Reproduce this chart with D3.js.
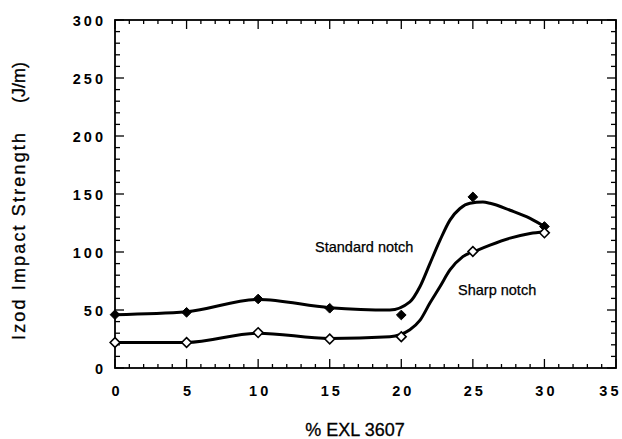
<!DOCTYPE html>
<html>
<head>
<meta charset="utf-8">
<script src="https://cdn.jsdelivr.net/npm/d3@7"></script>
<style>
  html, body { margin: 0; padding: 0; background: #fff; }
  svg { display: block; font-family: "Liberation Sans", Arial, Helvetica, sans-serif; }
</style>
</head>
<body>
<div id="chart"></div>
<script>
// measured points
const pctExl = [0, 5, 10, 15, 20, 25, 30];
const standardNotch = [46, 48, 59.5, 51.5, 45.7, 147.5, 122];
const sharpNotch = [22, 22, 30.5, 25, 27, 100.5, 116.5];

// fitted curves
const standardFitX = [0, 5, 10, 15, 19.2, 20.6, 21.3, 22.0, 22.7, 23.4, 24.1, 24.8, 25.7, 26.2, 27.6, 29, 30];
const standardFitY = [46, 48.5, 59, 52, 50, 57, 70, 90, 110, 127.5, 137.5, 142, 143, 142, 136, 129, 122];
const sharpFitX = [0, 5, 10, 15, 19.2, 20.6, 21.3, 22.0, 22.7, 23.4, 24.3, 25.3, 26.2, 27.6, 29, 30];
const sharpFitY = [22, 22, 30, 25.5, 27, 33, 41, 56, 70, 84.5, 96, 101.5, 106, 112, 116, 117.5];

const xTicks = [0, 5, 10, 15, 20, 25, 30, 35];
const yTicks = [0, 50, 100, 150, 200, 250, 300];

const config = {
  width: 622,
  height: 439,
  left: 115,
  right: 616,
  top: 20,
  bottom: 368
};

const svg = d3.select('#chart')
  .append('svg')
  .attr('width', config.width)
  .attr('height', config.height);

const x = d3.scaleLinear().domain([0, 35]).range([config.left, config.right]);
const y = d3.scaleLinear().domain([0, 300]).range([config.bottom, config.top]);

const ls = 3; // digit spacing in tick labels

// minor ticks, inward on all four sides
const minorX = d3.range(0, 36, 1);
const minorY = d3.range(0, 301, 10);

const tickG = svg.append('g')
  .attr('stroke', '#000')
  .attr('stroke-width', 1.3);

minorX.forEach(v => {
  const len = v % 5 === 0 ? 9 : 4;
  tickG.append('line')
    .attr('x1', x(v)).attr('x2', x(v))
    .attr('y1', config.bottom).attr('y2', config.bottom - len);
  tickG.append('line')
    .attr('x1', x(v)).attr('x2', x(v))
    .attr('y1', config.top).attr('y2', config.top + len);
});

minorY.forEach(v => {
  const len = v % 50 === 0 ? 9 : 5;
  tickG.append('line')
    .attr('x1', config.left).attr('x2', config.left + len)
    .attr('y1', y(v)).attr('y2', y(v));
  tickG.append('line')
    .attr('x1', config.right).attr('x2', config.right - len)
    .attr('y1', y(v)).attr('y2', y(v));
});

// frame
svg.append('rect')
  .attr('x', config.left)
  .attr('y', config.top)
  .attr('width', config.right - config.left)
  .attr('height', config.bottom - config.top)
  .attr('fill', 'none')
  .attr('stroke', '#000')
  .attr('stroke-width', 1.8);

// axes (labels only, ticks drawn above)
const xAxis = svg.append('g')
  .attr('transform', `translate(0, ${config.bottom})`)
  .call(d3.axisBottom(x).tickValues(xTicks).tickSize(0).tickPadding(0));
xAxis.select('.domain').remove();
xAxis.selectAll('text')
  .attr('y', 28)
  .attr('dy', 0)
  .attr('dx', ls / 2)
  .attr('font-size', 14.5)
  .attr('font-weight', 'bold')
  .style('letter-spacing', ls + 'px')
  .attr('fill', '#000');
// keep the last label inside the page
xAxis.selectAll('text').filter(d => d === 35)
  .attr('text-anchor', 'end')
  .attr('dx', 0)
  .attr('x', config.width - 1 - x(35));

const yAxis = svg.append('g')
  .attr('transform', `translate(${config.left}, 0)`)
  .call(d3.axisLeft(y).tickValues(yTicks).tickSize(0).tickPadding(0));
yAxis.select('.domain').remove();
yAxis.selectAll('text')
  .attr('x', -12 + ls)
  .attr('dy', '0.36em')
  .attr('font-size', 14.5)
  .attr('font-weight', 'bold')
  .style('letter-spacing', ls + 'px')
  .attr('fill', '#000');

// curves
const line = d3.line()
  .x(d => x(d[0]))
  .y(d => y(d[1]))
  .curve(d3.curveMonotoneX);

svg.append('path')
  .datum(d3.zip(standardFitX, standardFitY))
  .attr('d', line)
  .attr('fill', 'none')
  .attr('stroke', '#000')
  .attr('stroke-width', 3);

svg.append('path')
  .datum(d3.zip(sharpFitX, sharpFitY))
  .attr('d', line)
  .attr('fill', 'none')
  .attr('stroke', '#000')
  .attr('stroke-width', 3);

// markers
const diamond = d3.symbol().type(d3.symbolDiamond2).size(60);

svg.append('g').selectAll('path')
  .data(d3.zip(pctExl, standardNotch))
  .enter()
  .append('path')
  .attr('d', diamond)
  .attr('transform', d => `translate(${x(d[0])}, ${y(d[1])})`)
  .attr('fill', '#000')
  .attr('stroke', '#000')
  .attr('stroke-width', 1);

svg.append('g').selectAll('path')
  .data(d3.zip(pctExl, sharpNotch))
  .enter()
  .append('path')
  .attr('d', diamond)
  .attr('transform', d => `translate(${x(d[0])}, ${y(d[1])})`)
  .attr('fill', '#fff')
  .attr('stroke', '#000')
  .attr('stroke-width', 1.6);

// series labels
svg.append('text')
  .attr('x', 315)
  .attr('y', 252)
  .attr('font-size', 14.5)
  .attr('fill', '#000')
  .attr('stroke', '#000')
  .attr('stroke-width', 0.25)
  .text('Standard notch');

svg.append('text')
  .attr('x', 458)
  .attr('y', 295)
  .attr('font-size', 14.5)
  .attr('fill', '#000')
  .attr('stroke', '#000')
  .attr('stroke-width', 0.25)
  .text('Sharp notch');

// axis titles
svg.append('text')
  .attr('x', 355)
  .attr('y', 436)
  .attr('text-anchor', 'middle')
  .attr('font-size', 18)
  .attr('fill', '#000')
  .attr('stroke', '#000')
  .attr('stroke-width', 0.3)
  .text('% EXL 3607');

svg.append('text')
  .attr('transform', 'translate(25, 340) rotate(-90)')
  .attr('font-size', 18)
  .attr('fill', '#000')
  .attr('stroke', '#000')
  .attr('stroke-width', 0.3)
  .attr('textLength', 207)
  .attr('lengthAdjust', 'spacing')
  .text('Izod Impact Strength');

svg.append('text')
  .attr('transform', 'translate(25, 103) rotate(-90)')
  .attr('font-size', 18)
  .attr('fill', '#000')
  .attr('stroke', '#000')
  .attr('stroke-width', 0.3)
  .text('(J/m)');
</script>
</body>
</html>
